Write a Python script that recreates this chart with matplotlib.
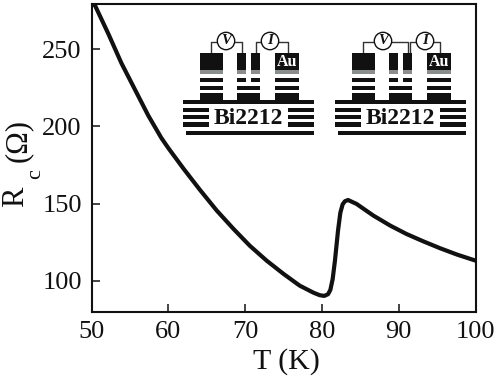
import matplotlib
matplotlib.use("Agg")
import matplotlib.pyplot as plt
from matplotlib.patches import Circle, Rectangle

T_K = [50, 50.5, 52.2, 53.9, 55.7, 57.4, 59.1, 60.0, 62, 64.1, 66.3, 68.5, 70.6, 72.8, 75, 77.1, 78.9, 79.7, 80.3,
       80.8, 81.1, 81.4, 81.7, 82.1, 82.4, 82.7, 83.0, 83.4, 84.5, 86.7, 88.9, 91, 93.2, 95.4, 97.6, 100]
R_ohm = [281, 278, 260, 241, 223.5, 207, 192.5, 186, 172.5, 159, 145.5, 133.5, 122.7, 113, 104.4, 96.8, 92.2, 90.6, 90.1,
         91.2, 94, 101, 113, 132.5, 144, 149.5, 151.5, 152.3, 149.8, 142.2, 135.7, 130.3, 125.5, 121, 116.9, 113]
x_ticks = [50, 60, 70, 80, 90, 100]
y_ticks = [100, 150, 200, 250]

W, H = 498, 379
AX_L, AX_R, AX_T, AX_B = 91.5, 475.5, 4, 311.5
INK = "#111111"


def add_rect(ov, x0, x1, y0, y1, color=INK, z=3):
    ov.add_patch(Rectangle((x0, y0), x1 - x0, y1 - y0, facecolor=color, edgecolor="none", zorder=z))


def add_stack(ov, x0, x1, gold=False):
    add_rect(ov, x0, x1, 53, 70)
    add_rect(ov, x0, x1, 70, 74, "#8a8f8c")
    for y0, y1 in [(78, 82), (86, 89.5), (93, 100)]:
        add_rect(ov, x0, x1, y0, y1)
    if gold:
        ov.text((x0 + x1) / 2, 62, "Au", color="white", fontsize=11.5, fontweight="bold",
                ha="center", va="center", zorder=5)


def add_meter(ov, x, label):
    ov.add_patch(Circle((x, 41), 8.7, facecolor="white", edgecolor=INK, linewidth=1.0, zorder=4))
    ov.text(x, 41, label, fontsize=11, fontstyle="italic", fontweight="bold", ha="center", va="center",
            color=INK, zorder=5)


def add_device(ov, dx, slit, v_x, i_x, v_right, i_left):
    add_stack(ov, 199.5 + dx, 223 + dx)
    add_stack(ov, 237 + dx, 260 + dx)
    add_stack(ov, 275 + dx, 298.5 + dx, gold=True)
    # slit between the two inner contacts
    add_rect(ov, slit + dx, slit + 5 + dx, 53, 86, "white", 4)
    # wires
    ov.plot([211 + dx, 211 + dx, v_right + dx, v_right + dx], [53, 41.5, 41.5, 53], color="#333333", lw=1.0, zorder=2)
    ov.plot([i_left + dx, i_left + dx, 288 + dx, 288 + dx], [53, 41.5, 41.5, 53], color="#333333", lw=1.0, zorder=2)
    add_meter(ov, v_x + dx, "V")
    add_meter(ov, i_x + dx, "I")
    # Bi2212 base layers
    add_rect(ov, 183 + dx, 314 + dx, 100, 104)
    for y0, y1 in [(108, 112), (115, 118.5), (122, 127)]:
        add_rect(ov, 183 + dx, 314 + dx, y0, y1)
    add_rect(ov, 186 + dx, 314 + dx, 131, 134.5)
    add_rect(ov, 209 + dx, 288 + dx, 108, 128, "white", 4)
    ov.text(248.5 + dx, 118.5, "Bi2212", fontsize=17, fontweight="bold", ha="center", va="center",
            color=INK, zorder=5)


def main():
    plt.rcParams.update({"font.family": ["Liberation Serif", "DejaVu Serif"], "font.size": 19})

    fig = plt.figure(figsize=(W / 100, H / 100), dpi=100)
    ax = fig.add_axes([AX_L / W, 1 - AX_B / H, (AX_R - AX_L) / W, (AX_B - AX_T) / H])
    ax.plot(T_K, R_ohm, color=INK, lw=3.0, solid_capstyle="round", solid_joinstyle="round")
    ax.set_xlim(50, 100)
    ax.set_ylim(80, 279.4)
    ax.set_xticks(x_ticks)
    ax.set_yticks(y_ticks)
    ax.tick_params(direction="in", length=5.5, width=1.1, labelsize=19, color=INK, labelcolor=INK)
    ax.tick_params(axis="x", pad=7)
    ax.tick_params(axis="y", pad=7)
    for spine in ax.spines.values():
        spine.set_linewidth(1.5)
        spine.set_color(INK)

    ov = fig.add_axes([0, 0, 1, 1], facecolor="none")
    ov.set_xlim(0, W)
    ov.set_ylim(H, 0)
    ov.axis("off")
    add_device(ov, 0, 246, 226, 270, 242, 256)
    add_device(ov, 152, 246, 231, 273, 256, 258)

    # axis titles are placed by hand, the subscript sits well away from the R
    ov.text(286, 362, "T (K)", fontsize=21.5, color=INK, ha="center", va="center")
    ov.text(16, 197, "R", fontsize=22, color=INK, rotation=90, ha="center", va="center")
    ov.text(36, 174, "c", fontsize=16, color=INK, rotation=90, ha="center", va="center")
    ov.text(18, 140, "(\u03a9)", fontsize=22, color=INK, rotation=90, ha="center", va="center")

    fig.savefig("out.png", dpi=100)


if __name__ == "__main__":
    main()
